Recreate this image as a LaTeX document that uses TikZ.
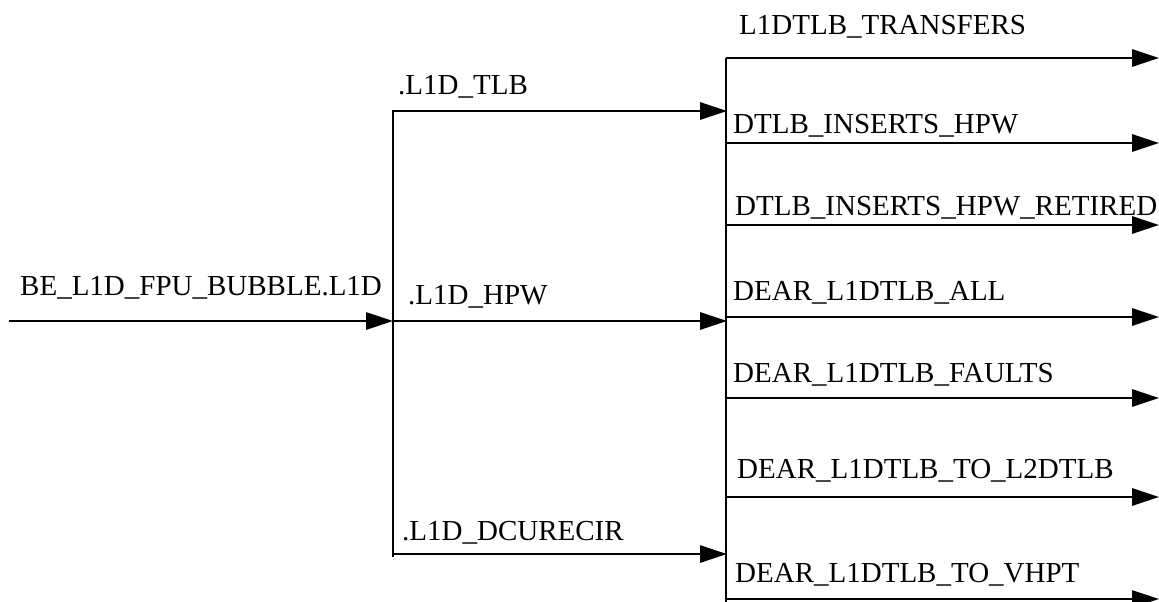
\documentclass[tikz,border=0pt]{standalone}
\usepackage{fontspec}
\setmainfont{Liberation Serif}
\usetikzlibrary{arrows.meta}
\begin{document}
\begin{tikzpicture}[x=1pt,y=-1pt,
  wire/.style={line width=2.9pt},
  sig/.style={wire,-{Triangle[length=27pt,width=17pt]}},
  lbl/.style={anchor=base west,inner sep=0pt,font=\fontsize{29}{34}\selectfont}]
\useasboundingbox (0,0) rectangle (1159,602);
% left part
\coordinate (in) at (9,321);
\coordinate (lbtop) at (393,111);
\coordinate (lbmid) at (393,321);
\coordinate (lbbot) at (393,557);
\coordinate (t1) at (727,111);
\coordinate (t2) at (727,321);
\coordinate (t3) at (727,554);
\draw[sig] (in) -- (lbmid);
\draw[wire] (lbtop) -- (lbbot);
\draw[sig] (lbmid) |- (t1);
\draw[sig] (lbmid) -- (t2);
\draw[sig] (lbmid) |- (t3);
\node[lbl] (lin) at (20,295) {BE\_L1D\_FPU\_BUBBLE.L1D};
\node[lbl] (l1) at (398,95) {.L1D\_TLB};
\node[lbl] (l2) at (408,304) {.L1D\_HPW};
\node[lbl] (l3) at (402,540) {.L1D\_DCURECIR};
% right bus
\coordinate (rbtop) at (726,58);
\coordinate (rbbot) at (726,602);
\coordinate (o1) at (1159,58);
\draw[wire] (rbbot) -- (rbtop);
\draw[sig] (rbtop) -- (o1);
\foreach \y/\n in {143/2,225/3,317/4,398/5,497/6,599/7}{
  \coordinate (s\n) at (726,\y);
  \coordinate (o\n) at (1159,\y);
  \draw[sig] (s\n) -- (o\n);
}
\node[lbl] (r1) at (739,35) {L1DTLB\_TRANSFERS};
\node[lbl] (r2) at (733,133) {DTLB\_INSERTS\_HPW};
\node[lbl] (r3) at (735,215) {DTLB\_INSERTS\_HPW\_RETIRED};
\node[lbl] (r4) at (733,300) {DEAR\_L1DTLB\_ALL};
\node[lbl] (r5) at (733,382) {DEAR\_L1DTLB\_FAULTS};
\node[lbl] (r6) at (737,478) {DEAR\_L1DTLB\_TO\_L2DTLB};
\node[lbl] (r7) at (735,582) {DEAR\_L1DTLB\_TO\_VHPT};
\end{tikzpicture}
\end{document}
